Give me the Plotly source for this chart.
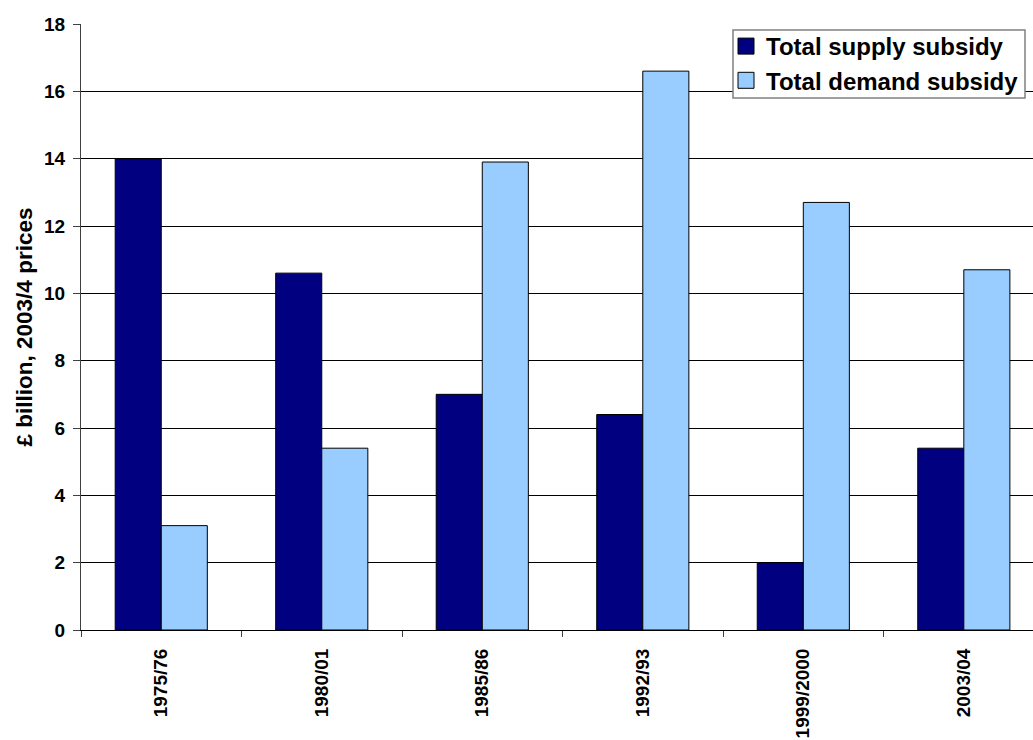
import plotly.graph_objects as go

categories = ["1975/76", "1980/01", "1985/86", "1992/93", "1999/2000", "2003/04"]
supply = [14.0, 10.6, 7.0, 6.4, 2.0, 5.4]
demand = [3.1, 5.4, 13.9, 16.6, 12.7, 10.7]
y_ticks = [0, 2, 4, 6, 8, 10, 12, 14, 16, 18]
series_names = ["Total supply subsidy", "Total demand subsidy"]
series_colors = ["#000080", "#99CCFF"]

FONT = "Liberation Sans, Arial, sans-serif"

fig = go.Figure()
for vals, name, col in zip([supply, demand], series_names, series_colors):
    fig.add_trace(go.Bar(x=categories, y=vals, name=name, showlegend=False,
                         marker=dict(color=col, line=dict(color="black", width=1))))
# legend entries with larger square swatches
for i, (name, col) in enumerate(zip(series_names, series_colors)):
    fig.add_trace(go.Scatter(x=[None], y=[None], mode="markers", name=name,
                             legendgroup=f"g{i}",
                             marker=dict(symbol="square", size=16, color=col,
                                         line=dict(color="black", width=1))))

fig.update_layout(
    width=1033, height=740,
    margin=dict(l=81, r=0, t=24, b=110),
    paper_bgcolor="white", plot_bgcolor="white",
    barmode="group", bargap=0.426, bargroupgap=0,
    font=dict(family=FONT, color="black"),
    legend=dict(x=(726 - 81) / 952, y=1.0, xanchor="left", yanchor="top",
                bgcolor="rgba(0,0,0,0)", borderwidth=0,
                traceorder="grouped", tracegroupgap=0, itemwidth=30,
                font=dict(size=24, family=FONT, color="black", weight="bold")),
    showlegend=True,
    shapes=[dict(type="rect", xref="paper", yref="paper",
                 x0=(733 - 81) / 952, x1=(1025 - 81) / 952,
                 y0=(630 - 98) / 606, y1=(630 - 30) / 606,
                 line=dict(color="#808080", width=1.5), fillcolor="white", layer="above")],
)
fig.update_xaxes(
    range=[-0.5, 5.431], tickangle=-90, tickson="boundaries",
    ticks="outside", ticklen=6, tickcolor="#404040", ticklabelstandoff=10,
    showline=True, linecolor="black", linewidth=1,
    tickfont=dict(size=19, family=FONT, color="black", weight="bold"),
    showgrid=False,
)
fig.update_yaxes(
    range=[0, 18], tickvals=y_ticks, ticks="outside", ticklen=7, tickcolor="#404040",
    ticklabelstandoff=4,
    showline=True, linecolor="#404040", linewidth=1,
    showgrid=True, gridcolor="black", gridwidth=1,
    tickfont=dict(size=19, family=FONT, color="black", weight="bold"),
    title=dict(text="£ billion, 2003/4 prices", standoff=5,
               font=dict(size=22.5, family=FONT, color="black", weight="bold")),
    zeroline=False,
)
fig.write_html("out.html")
